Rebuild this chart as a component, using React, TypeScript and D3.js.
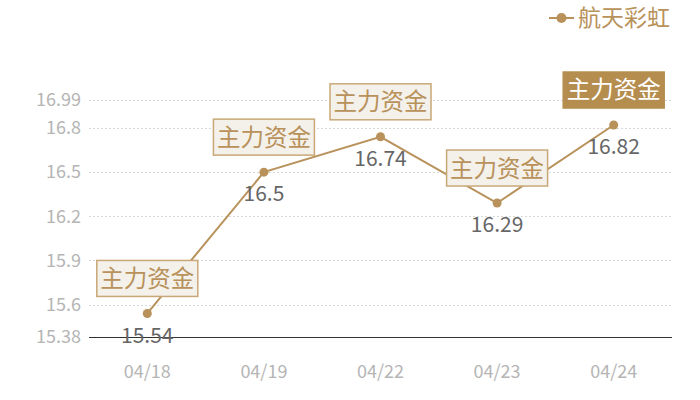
import React, { useEffect, useRef } from 'react';
import * as d3 from 'd3';

const categories = ['04/18', '04/19', '04/22', '04/23', '04/24'];
const prices = [15.54, 16.5, 16.74, 16.29, 16.82];
const yTicks = [15.38, 15.6, 15.9, 16.2, 16.5, 16.8, 16.99];
const markLabels = ['主力资金', '主力资金', '主力资金', '主力资金', '主力资金'];
const markHighlight = [false, false, false, false, true];
const seriesName = '航天彩虹';

const GOLD = '#b8925a';
const FONT = '"Noto Sans CJK SC", "Noto Sans", sans-serif';

const App: React.FC = () => {
    const svgRef = useRef<SVGSVGElement>(null);

    useEffect(() => {
        if (!svgRef.current) return;
        const width = 700;
        const height = 400;
        const margin = { top: 100, right: 28, bottom: 63, left: 89 };

        const svg = d3.select(svgRef.current);
        svg.selectAll('*').remove();
        svg.attr('width', width).attr('height', height).style('font-family', FONT);

        const x = d3.scaleBand()
            .domain(categories)
            .range([margin.left, width - margin.right]);
        const y = d3.scaleLinear()
            .domain([15.38, 16.99])
            .range([height - margin.bottom, margin.top]);

        // Grid lines
        svg.append('g')
            .selectAll('line')
            .data(yTicks.slice(1))
            .enter()
            .append('line')
            .attr('x1', margin.left)
            .attr('x2', width - margin.right)
            .attr('y1', d => Math.round(y(d)) + 0.5)
            .attr('y2', d => Math.round(y(d)) + 0.5)
            .attr('stroke', '#d8d8d8')
            .attr('stroke-dasharray', '2,2');

        // Y axis labels
        svg.append('g')
            .selectAll('text')
            .data(yTicks)
            .enter()
            .append('text')
            .attr('x', margin.left - 8)
            .attr('y', d => y(d))
            .attr('dy', '0.35em')
            .attr('text-anchor', 'end')
            .attr('fill', '#b5b5b5')
            .style('font-size', '18px')
            .text(d => d.toString());

        // Baseline
        svg.append('line')
            .attr('x1', margin.left)
            .attr('x2', width - margin.right)
            .attr('y1', Math.round(y(15.38)) + 0.5)
            .attr('y2', Math.round(y(15.38)) + 0.5)
            .attr('stroke', '#333')
            .attr('stroke-width', 1);

        // X axis labels
        svg.append('g')
            .selectAll('text')
            .data(categories)
            .enter()
            .append('text')
            .attr('x', d => (x(d) || 0) + x.bandwidth() / 2)
            .attr('y', height - margin.bottom + 35)
            .attr('dy', '0.35em')
            .attr('text-anchor', 'middle')
            .attr('fill', '#b5b5b5')
            .style('font-size', '18px')
            .text(d => d);

        const cx = (i: number) => (x(categories[i]) || 0) + x.bandwidth() / 2;

        // Line
        const line = d3.line<number>()
            .x((_, i) => cx(i))
            .y(d => y(d));
        svg.append('path')
            .datum(prices)
            .attr('d', line)
            .attr('fill', 'none')
            .attr('stroke', GOLD)
            .attr('stroke-width', 2);

        // Annotation boxes
        const boxW = 101;
        const boxH = 36;
        const notes = svg.append('g')
            .selectAll('g')
            .data(prices)
            .enter()
            .append('g')
            .attr('transform', (d, i) => `translate(${cx(i) - boxW / 2},${y(d) - 17 - boxH})`);
        notes.append('rect')
            .attr('width', boxW)
            .attr('height', boxH)
            .attr('fill', (_, i) => (markHighlight[i] ? '#b58d4f' : '#f4f0ea'))
            .attr('stroke', (_, i) => (markHighlight[i] ? '#b58d4f' : '#c9a877'))
            .attr('stroke-width', 1.5);
        notes.append('text')
            .attr('x', boxW / 2)
            .attr('y', boxH / 2)
            .attr('dy', '0.36em')
            .attr('text-anchor', 'middle')
            .attr('fill', (_, i) => (markHighlight[i] ? '#fff' : GOLD))
            .style('font-size', '23.5px')
            .text((_, i) => markLabels[i]);

        // Points
        svg.append('g')
            .selectAll('circle')
            .data(prices)
            .enter()
            .append('circle')
            .attr('cx', (_, i) => cx(i))
            .attr('cy', d => y(d))
            .attr('r', 4.5)
            .attr('fill', GOLD);

        // Value labels
        svg.append('g')
            .selectAll('text')
            .data(prices)
            .enter()
            .append('text')
            .attr('x', (_, i) => cx(i))
            .attr('y', d => y(d) + 22)
            .attr('dy', '0.35em')
            .attr('text-anchor', 'middle')
            .attr('fill', '#666')
            .style('font-size', '21px')
            .text(d => d.toString());

        // Legend
        const legend = svg.append('g').attr('transform', 'translate(549,18)');
        legend.append('line')
            .attr('x1', 0)
            .attr('x2', 25)
            .attr('stroke', GOLD)
            .attr('stroke-width', 2);
        legend.append('circle')
            .attr('cx', 12.5)
            .attr('r', 5)
            .attr('fill', GOLD);
        legend.append('text')
            .attr('x', 29)
            .attr('y', 8)
            .attr('fill', GOLD)
            .style('font-size', '23px')
            .text(seriesName);
    }, []);

    return <svg ref={svgRef} style={{ position: 'absolute', left: 0, top: 0 }} />;
};

export default App;
